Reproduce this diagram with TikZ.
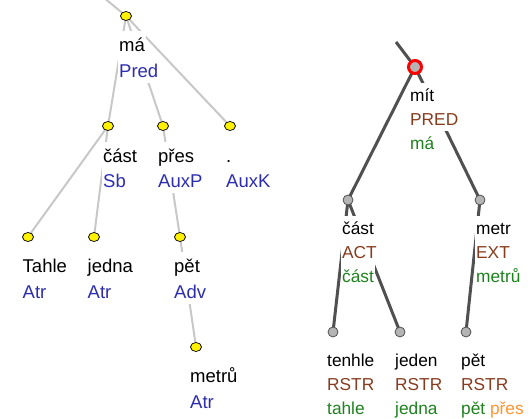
\documentclass[tikz,border=0pt]{standalone}
\usepackage{fontspec}
\setmainfont{Liberation Sans}
\usetikzlibrary{shapes.geometric,backgrounds}
\definecolor{afun}{RGB}{45,45,175}
\definecolor{functor}{RGB}{135,60,30}
\definecolor{lemma}{RGB}{30,130,30}
\definecolor{prep}{RGB}{255,150,50}
\definecolor{ledge}{RGB}{200,200,200}
\definecolor{redge}{RGB}{80,80,80}
\definecolor{rnode}{RGB}{180,180,180}
\tikzset{
 ynode/.style={ellipse, draw=black, line width=0.7pt, fill=yellow, minimum width=11pt, minimum height=9pt, inner sep=0pt},
 gnode/.style={circle, draw=redge, line width=0.8pt, fill=rnode, minimum size=10pt, inner sep=0pt},
 rootnode/.style={circle, draw=red, line width=3pt, fill=rnode, minimum size=13pt, inner sep=0pt},
 ledgestyle/.style={draw=ledge, line width=2pt},
 redgestyle/.style={draw=redge, line width=3pt},
 ltxt/.style={anchor=base west, fill=white, inner xsep=1.5pt, inner ysep=0pt, text height=21pt, text depth=5pt, font=\fontsize{18.5}{22}\selectfont},
 rtxt/.style={anchor=base west, fill=white, inner xsep=1.5pt, inner ysep=0pt, text height=19pt, text depth=5pt, font=\fontsize{17.3}{21}\selectfont},
}
\begin{document}
\begin{tikzpicture}[x=1pt,y=-1pt]
\useasboundingbox (0,0) rectangle (528,419);
% ---------- left tree nodes ----------
\coordinate (ltop) at (97,-8);
\node[ynode] (ma) at (126,16) {};
\node[ynode] (cast) at (108,126) {};
\node[ynode] (pres) at (163,126) {};
\node[ynode] (auxk) at (230,126) {};
\node[ynode] (tahle) at (28,237) {};
\node[ynode] (jedna) at (94,237) {};
\node[ynode] (pet) at (180,237) {};
\node[ynode] (metru) at (196,347) {};
% ---------- right tree nodes ----------
\coordinate (rtop) at (396,42);
\node[rootnode] (mit) at (415,67) {};
\node[gnode] (rcast) at (348,200) {};
\node[gnode] (metr) at (480,200) {};
\node[gnode] (tenhle) at (333,332) {};
\node[gnode] (jeden) at (400,332) {};
\node[gnode] (pet2) at (466,332) {};
% ---------- left labels ----------
\node[ltxt] (maW) at (117.5,52) {má};
\node[ltxt, text=afun] (maA) at (117.5,78) {Pred};
\node[ltxt] (castW) at (101.5,163) {část};
\node[ltxt, text=afun] (castA) at (101.5,188) {Sb};
\node[ltxt] (presW) at (156.5,163) {přes};
\node[ltxt, text=afun] (presA) at (156.5,188) {AuxP};
\node[ltxt] (auxkW) at (224.5,163) {.};
\node[ltxt, text=afun] (auxkA) at (224.5,188) {AuxK};
\node[ltxt] (tahleW) at (21,273) {Tahle};
\node[ltxt, text=afun] (tahleA) at (21,299) {Atr};
\node[ltxt] (jednaW) at (86,273) {jedna};
\node[ltxt, text=afun] (jednaA) at (86,299) {Atr};
\node[ltxt] (petW) at (172.5,273) {pět};
\node[ltxt, text=afun] (petA) at (172.5,299) {Adv};
\node[ltxt] (metruW) at (188.5,383) {metrů};
\node[ltxt, text=afun] (metruA) at (188.5,409) {Atr};
% ---------- right labels ----------
\node[rtxt] (mitW) at (408.5,102) {mít};
\node[rtxt, text=functor] (mitF) at (408.5,126) {PRED};
\node[rtxt, text=lemma] (mitL) at (408.5,150) {má};
\node[rtxt] (rcastW) at (340.5,235) {část};
\node[rtxt, text=functor] (rcastF) at (340.5,259) {ACT};
\node[rtxt, text=lemma] (rcastL) at (340.5,283) {část};
\node[rtxt] (metrW) at (474.5,235) {metr};
\node[rtxt, text=functor] (metrF) at (474.5,259) {EXT};
\node[rtxt, text=lemma] (metrL) at (474.5,283) {metrů};
\node[rtxt] (tenhleW) at (325.5,367) {tenhle};
\node[rtxt, text=functor] (tenhleF) at (325.5,391) {RSTR};
\node[rtxt, text=lemma] (tenhleL) at (325.5,415) {tahle};
\node[rtxt] (jedenW) at (393.5,367) {jeden};
\node[rtxt, text=functor] (jedenF) at (393.5,391) {RSTR};
\node[rtxt, text=lemma] (jedenL) at (393.5,415) {jedna};
\node[rtxt] (pet2W) at (459.5,367) {pět};
\node[rtxt, text=functor] (pet2F) at (459.5,391) {RSTR};
\node[rtxt, text=lemma] (pet2L) at (459.5,415) {pět \textcolor{prep}{přes}};
% ---------- edges (behind) ----------
\begin{scope}[on background layer]
\fill[white] (0,0) rectangle (528,419);
\draw[ledgestyle] (ltop) -- (ma.center);
\draw[ledgestyle] (ma.center) -- (cast.center);
\draw[ledgestyle] (ma.center) -- (pres.center);
\draw[ledgestyle] (ma.center) -- (auxk.center);
\draw[ledgestyle] (cast.center) -- (tahle.center);
\draw[ledgestyle] (cast.center) -- (jedna.center);
\draw[ledgestyle] (pres.center) -- (pet.center);
\draw[ledgestyle] (pet.center) -- (metru.center);
\draw[redgestyle] (rtop) -- (mit.center);
\draw[redgestyle] (mit.center) -- (rcast.center);
\draw[redgestyle] (mit.center) -- (metr.center);
\draw[redgestyle] (rcast.center) -- (tenhle.center);
\draw[redgestyle] (rcast.center) -- (jeden.center);
\draw[redgestyle] (metr.center) -- (pet2.center);
\end{scope}
\end{tikzpicture}
\end{document}
